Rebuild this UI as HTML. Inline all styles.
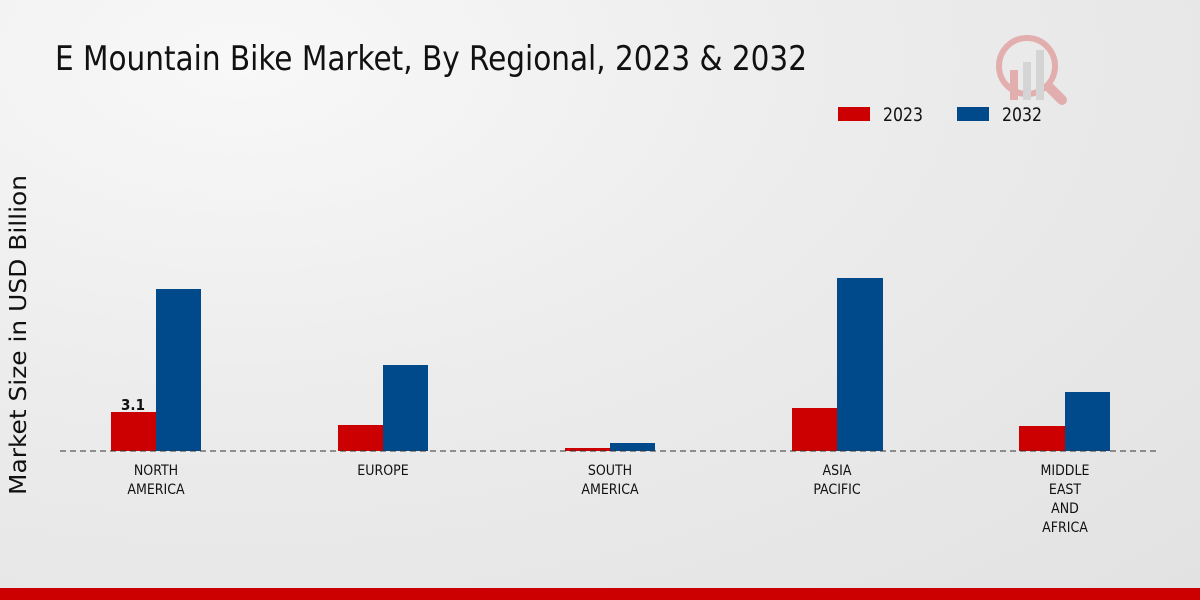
<!DOCTYPE html>
<html><head><meta charset="utf-8"><style>
html,body{margin:0;padding:0}
body{width:1200px;height:600px;overflow:hidden;background:radial-gradient(ellipse at 20% 10%,#f8f8f8 0%,#ececec 45%,#e2e2e2 100%);font-family:"DejaVu Sans Condensed","Liberation Sans Narrow","Liberation Sans",sans-serif;position:relative}
</style></head><body>
<svg width="1200" height="600" style="position:absolute;left:0;top:0" font-family="DejaVu Sans Condensed, Liberation Sans Narrow, Liberation Sans, sans-serif">
<text x="55" y="70" font-size="34" fill="#111" textLength="752" lengthAdjust="spacingAndGlyphs">E Mountain Bike Market, By Regional, 2023 &amp; 2032</text>
<g opacity="0.25">
<circle cx="1027" cy="66" r="28" fill="none" stroke="#c00" stroke-width="6"/>
<rect x="1010" y="70" width="8" height="30" fill="#c00"/>
<rect x="1023" y="62" width="8" height="38" fill="#999"/>
<rect x="1036" y="50" width="8" height="50" fill="#999"/>
<line x1="1050" y1="88" x2="1062" y2="100" stroke="#c00" stroke-width="10" stroke-linecap="round"/>
</g>
<rect x="838" y="107" width="32" height="14" fill="#cc0000"/>
<text x="883" y="121" font-size="19" fill="#111" textLength="40" lengthAdjust="spacingAndGlyphs">2023</text>
<rect x="957" y="107" width="32" height="14" fill="#004a8c"/>
<text x="1002" y="121" font-size="19" fill="#111" textLength="40" lengthAdjust="spacingAndGlyphs">2032</text>
<text transform="translate(26,335) rotate(-90)" font-size="23" fill="#111" text-anchor="middle" font-family="DejaVu Sans, Liberation Sans, sans-serif" textLength="320" lengthAdjust="spacingAndGlyphs">Market Size in USD Billion</text>
<g fill="#cc0000">
<rect x="111" y="412" width="45" height="39"/>
<rect x="338" y="425" width="45" height="26"/>
<rect x="565" y="448" width="45" height="3"/>
<rect x="792" y="408" width="45" height="43"/>
<rect x="1019" y="426" width="46" height="25"/>
</g>
<g fill="#004a8c">
<rect x="156" y="289" width="45" height="162"/>
<rect x="383" y="365" width="45" height="86"/>
<rect x="610" y="443" width="45" height="8"/>
<rect x="837" y="278" width="46" height="173"/>
<rect x="1065" y="392" width="45" height="59"/>
</g>
<line x1="60" y1="451" x2="1158" y2="451" stroke="#333" stroke-width="1" stroke-dasharray="6,4"/>
<text x="133" y="410" font-size="15" font-weight="bold" fill="#111" text-anchor="middle">3.1</text>
<g font-size="14" fill="#111" text-anchor="middle">
<text x="156" y="475">NORTH</text><text x="156" y="494">AMERICA</text>
<text x="383" y="475">EUROPE</text>
<text x="610" y="475">SOUTH</text><text x="610" y="494">AMERICA</text>
<text x="837" y="475">ASIA</text><text x="837" y="494">PACIFIC</text>
<text x="1065" y="475">MIDDLE</text><text x="1065" y="494">EAST</text><text x="1065" y="513">AND</text><text x="1065" y="532">AFRICA</text>
</g>
<rect x="0" y="588" width="1200" height="12" fill="#cc0000"/>
</svg>
</body></html>
